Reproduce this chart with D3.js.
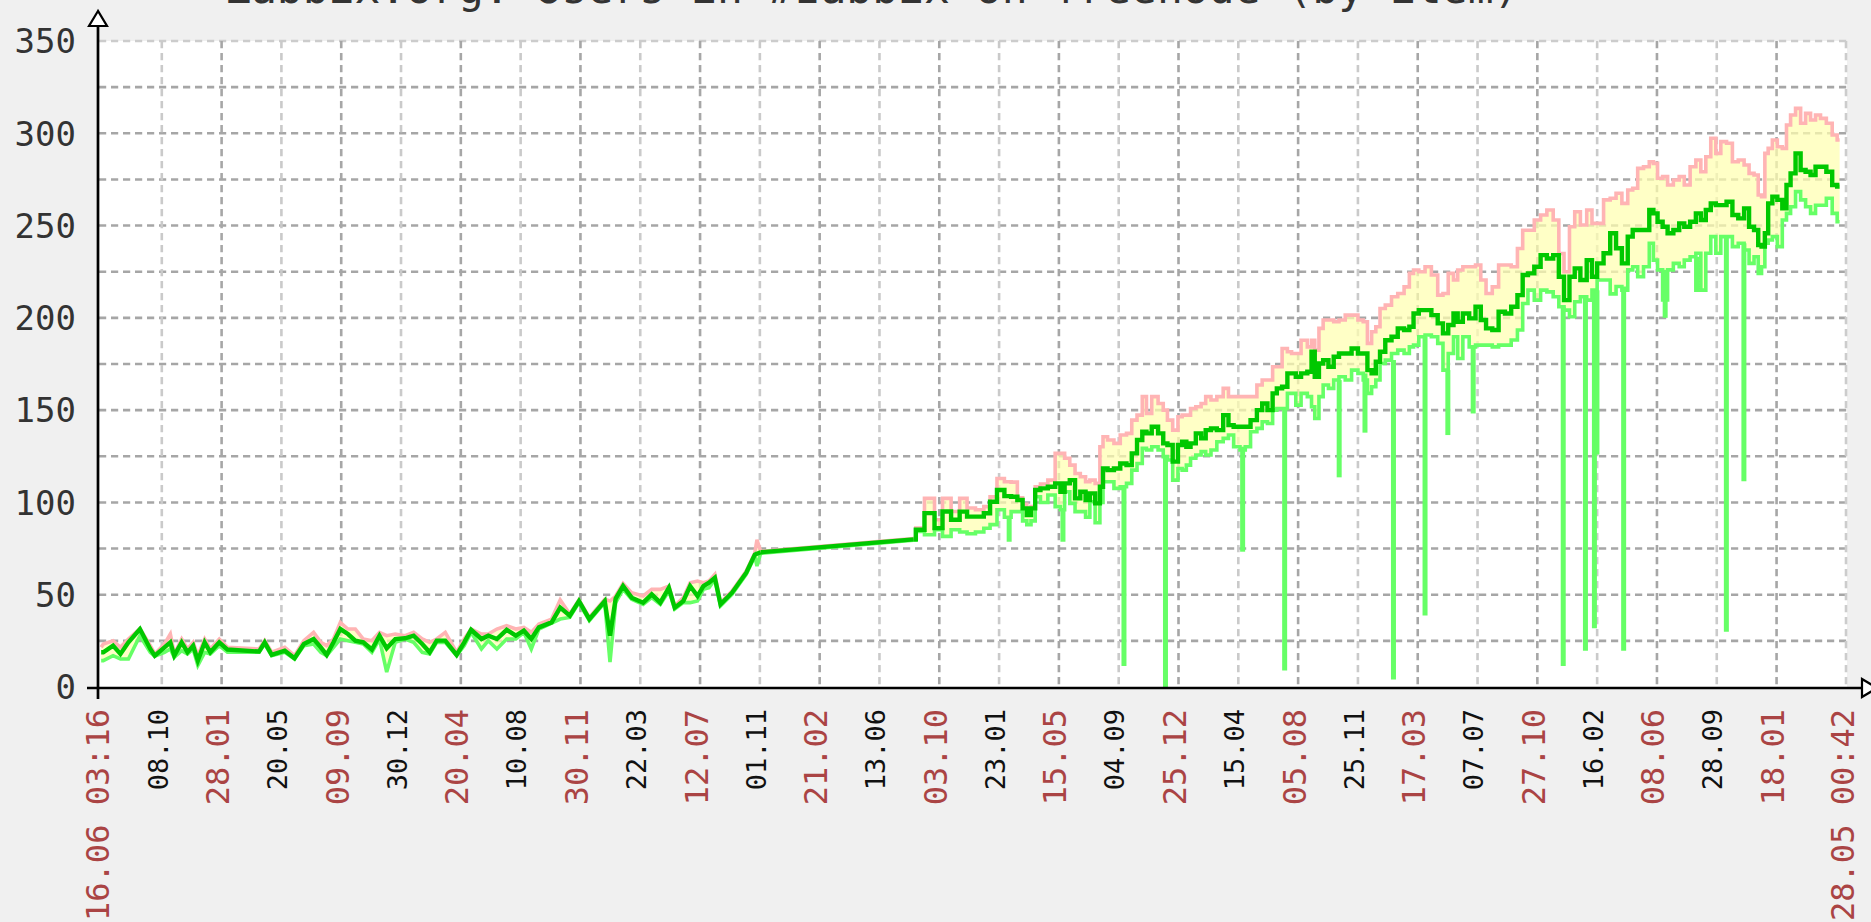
<!DOCTYPE html>
<html>
<head>
<meta charset="utf-8">
<script src="https://cdn.jsdelivr.net/npm/d3@7"></script>
<style>
  html, body { margin: 0; padding: 0; background: #f0f0f0; overflow: hidden; }
  svg { display: block; }
</style>
</head>
<body>
<script>
// ---- data (time as decimal year) ----
const title = 'Zabbix.org: Users in #zabbix on freenode (by item)';
const startTime = '2010-06-16T03:16:00Z';
const endTime = '2019-05-28T00:42:00Z';
const startLabel = '16.06 03:16';
const endLabel = '28.05 00:42';

const yLabels = [0, 50, 100, 150, 200, 250, 300, 350];
const yGrid = [25, 50, 75, 100, 125, 150, 175, 200, 225, 250, 275, 300, 325];

const tickDates = ['2010-10-08', '2011-01-28', '2011-05-20', '2011-09-09', '2011-12-30', '2012-04-20',
  '2012-08-10', '2012-11-30', '2013-03-22', '2013-07-12', '2013-11-01', '2014-02-21', '2014-06-13',
  '2014-10-03', '2015-01-23', '2015-05-15', '2015-09-04', '2015-12-25', '2016-04-15', '2016-08-05',
  '2016-11-25', '2017-03-17', '2017-07-07', '2017-10-27', '2018-02-16', '2018-06-08', '2018-09-28',
  '2019-01-18'];
const tickMajor = [0, 1, 0, 1, 0, 1, 0, 1, 0, 1, 0, 1, 0, 1, 0, 1, 0, 1, 0, 1, 0, 1, 0, 1, 0, 1, 0, 1];

const times = [
  2010.456, 2010.467, 2010.517, 2010.555, 2010.596, 2010.655, 2010.708, 2010.731, 2010.781, 2010.811,
  2010.831, 2010.869, 2010.899, 2010.928, 2010.952, 2010.987, 2011.016, 2011.062, 2011.104, 2011.266,
  2011.295, 2011.331, 2011.398, 2011.448, 2011.496, 2011.546, 2011.583, 2011.613, 2011.648, 2011.683,
  2011.722, 2011.760, 2011.801, 2011.845, 2011.884, 2011.921, 2011.965, 2012.015, 2012.059, 2012.103,
  2012.141, 2012.177, 2012.221, 2012.279, 2012.318, 2012.353, 2012.406, 2012.441, 2012.485, 2012.535,
  2012.582, 2012.623, 2012.661, 2012.700, 2012.765, 2012.809, 2012.858, 2012.905, 2012.958, 2013.037,
  2013.064, 2013.093, 2013.131, 2013.175, 2013.234, 2013.278, 2013.322, 2013.366, 2013.396, 2013.440,
  2013.475, 2013.513, 2013.543, 2013.572, 2013.602, 2013.631, 2013.690, 2013.763, 2013.807, 2013.818,
  2013.837, 2014.621, 2014.645, 2014.710, 2014.748, 2014.792, 2014.836,
  2014.880, 2014.912, 2014.966, 2014.998, 2015.030, 2015.069, 2015.106, 2015.138, 2015.170, 2015.192,
  2015.213, 2015.235, 2015.256, 2015.289, 2015.332, 2015.364, 2015.386, 2015.407, 2015.439, 2015.461,
  2015.493, 2015.515, 2015.537, 2015.569, 2015.586, 2015.601, 2015.633, 2015.666, 2015.698, 2015.730,
  2015.752, 2015.784, 2015.806, 2015.827, 2015.860, 2015.892, 2015.913, 2015.935, 2015.967, 2015.989,
  2016.010, 2016.032, 2016.053, 2016.086, 2016.107, 2016.133, 2016.161, 2016.193, 2016.226, 2016.247,
  2016.279, 2016.312, 2016.333, 2016.366, 2016.398, 2016.420, 2016.452, 2016.473, 2016.495, 2016.527,
  2016.549, 2016.570, 2016.592, 2016.624, 2016.656, 2016.667, 2016.689, 2016.710, 2016.732, 2016.764,
  2016.786, 2016.818, 2016.850, 2016.883, 2016.915, 2016.937, 2016.958, 2016.980, 2017.001, 2017.023,
  2017.055, 2017.087, 2017.119, 2017.152, 2017.173, 2017.195, 2017.227, 2017.259, 2017.292, 2017.324,
  2017.346, 2017.378, 2017.400, 2017.421, 2017.453, 2017.486, 2017.518, 2017.540, 2017.572, 2017.604,
  2017.637, 2017.669, 2017.701, 2017.733, 2017.755, 2017.787, 2017.820, 2017.852, 2017.884, 2017.917,
  2017.942, 2017.970, 2017.998, 2018.024, 2018.056, 2018.089, 2018.110, 2018.142,
  2018.176, 2018.210, 2018.236, 2018.270, 2018.296, 2018.321, 2018.347, 2018.381, 2018.406, 2018.423,
  2018.449, 2018.475, 2018.500, 2018.534, 2018.560, 2018.586, 2018.620, 2018.645, 2018.671, 2018.696,
  2018.722, 2018.748, 2018.773, 2018.807, 2018.833, 2018.867, 2018.893, 2018.918, 2018.944, 2018.961,
  2018.978, 2018.995, 2019.012, 2019.038, 2019.063, 2019.089, 2019.106, 2019.131, 2019.157, 2019.183,
  2019.208, 2019.234, 2019.259, 2019.285, 2019.319, 2019.345, 2019.370
];

const avgValues = [
  18.8, 18.8, 22.4, 17.9, 24.2, 31.4, 20.6, 17.0, 21.5, 24.2,
  17.0, 24.2, 18.8, 22.4, 14.3, 24.2, 18.8, 24.2, 20.3, 19.2,
  24.2, 17.4, 19.7, 15.6, 23.3, 26.0, 21.5, 17.4, 24.2, 31.4,
  28.7, 25.1, 24.2, 20.3, 27.8, 21.0, 26.0, 26.4, 27.8, 23.3,
  18.8, 25.1, 25.1, 17.4, 24.2, 31.0, 26.0, 27.8, 26.0, 31.0,
  27.8, 30.5, 26.0, 32.3, 35.0, 43.0, 38.6, 46.6, 36.8, 46.6,
  27.8, 47.9, 54.7, 48.4, 45.7, 50.2, 45.7, 53.8, 43.0, 46.6,
  54.7, 49.3, 54.7, 56.5, 59.2, 44.8, 51.1, 61.9, 71.7, 72.2,
  73.0, 80.0, 85.2, 94.2, 86.1, 95.1, 90.6,
  95.0, 92.3, 92.3, 94.1, 100.4, 106.7, 103.4, 103.1, 101.3, 96.8,
  93.2, 96.8, 106.7, 107.6, 108.5, 110.3, 105.8, 110.3, 112.1, 102.2,
  105.8, 101.3, 104.9, 99.5, 108.5, 118.4, 117.5, 118.4, 121.1, 120.2,
  126.6, 133.8, 138.3, 137.4, 141.0, 137.4, 132.0, 131.1, 122.1, 131.1,
  132.9, 130.2, 132.0, 137.4, 134.7, 139.2, 140.1, 139.2, 147.3, 141.9,
  141.0, 141.0, 141.0, 144.6, 150.0, 153.6, 150.0, 159.1, 161.8, 162.7,
  169.9, 169.9, 168.1, 169.9, 170.8, 181.6, 168.1, 175.3, 177.1, 173.5,
  178.9, 180.7, 180.7, 183.4, 180.7, 180.7, 171.7, 169.9, 176.2, 181.6,
  187.9, 189.8, 194.3, 193.4, 195.2, 202.4, 204.2, 204.2, 201.5, 197.0,
  191.6, 196.1, 202.4, 197.9, 202.4, 199.7, 206.0, 198.8, 194.3, 193.4,
  203.3, 202.4, 206.0, 212.3, 223.2, 224.1, 227.7, 234.0, 232.2, 234.0,
  222.3, 209.6, 222.3, 226.8, 220.5, 231.3, 222.3, 229.5,
  235.0, 245.8, 237.7, 229.5, 244.0, 247.6, 247.6, 247.6, 258.4, 256.6,
  252.1, 249.4, 245.8, 247.6, 251.2, 249.4, 252.1, 256.6, 253.0, 258.4,
  262.0, 261.1, 261.1, 262.9, 255.7, 253.9, 259.3, 249.4, 247.6, 239.5,
  238.6, 245.8, 262.0, 265.7, 263.9, 259.3, 272.0, 278.3, 289.1, 280.1,
  279.2, 277.4, 281.9, 281.9, 279.2, 272.0, 271.1
];

const minValues = [
  14.3, 14.3, 17.0, 15.2, 15.2, 27.8, 18.8, 16.7, 18.8, 20.6,
  16.1, 19.7, 17.9, 20.6, 11.7, 18.8, 17.9, 22.4, 18.8, 18.8,
  23.3, 17.0, 18.8, 15.2, 22.4, 23.3, 18.8, 17.0, 21.5, 26.0,
  25.1, 24.2, 23.3, 18.8, 26.0, 8.1, 24.2, 26.0, 24.2, 18.8,
  17.9, 24.2, 24.2, 17.0, 22.4, 29.6, 20.6, 25.1, 20.6, 26.0,
  26.0, 29.6, 20.6, 31.4, 34.6, 36.8, 37.7, 45.7, 35.9, 45.7,
  13.5, 45.7, 52.9, 47.5, 44.8, 48.4, 44.8, 52.0, 42.2, 45.7,
  45.7, 46.6, 52.9, 53.8, 58.3, 43.9, 50.2, 61.0, 70.9, 65.5,
  72.5, 79.5, 84.3, 82.5, 85.2, 81.6, 85.2,
  84.0, 83.0, 84.0, 86.0, 88.0, 96.0, 92.0, 95.0, 95.0, 90.0,
  88.0, 90.0, 103.1, 100.0, 104.0, 97.7, 96.0, 105.8, 99.5, 95.0,
  95.0, 92.0, 100.4, 89.0, 100.0, 111.2, 111.2, 107.6, 108.5, 110.3,
  117.5, 121.1, 129.3, 128.4, 130.2, 128.4, 124.8, 123.0, 112.1, 118.4,
  117.5, 120.2, 123.9, 125.7, 127.5, 125.7, 128.4, 132.9, 134.7, 136.5,
  130.2, 128.4, 130.2, 138.3, 140.1, 143.7, 142.8, 150.0, 150.9, 150.9,
  159.1, 159.1, 152.7, 159.1, 157.3, 151.8, 145.5, 157.3, 163.6, 161.8,
  166.3, 168.1, 166.3, 171.7, 169.9, 166.3, 159.1, 162.7, 166.3, 175.3,
  177.1, 180.7, 182.5, 180.7, 184.3, 185.2, 189.8, 190.7, 189.8, 186.2,
  171.7, 180.7, 189.8, 178.0, 189.8, 184.3, 185.2, 185.2, 185.2, 184.3,
  185.2, 185.2, 188.0, 193.4, 207.8, 215.0, 209.6, 215.0, 214.1, 211.4,
  206.0, 204.2, 200.6, 208.7, 211.4, 209.6, 215.0, 220.5,
  220.5, 213.0, 217.0, 215.0, 226.0, 227.7, 222.3, 227.7, 240.4, 231.3,
  226.0, 209.7, 226.0, 229.5, 227.7, 231.3, 233.1, 235.0, 215.0, 235.0,
  244.0, 235.0, 244.0, 244.0, 238.6, 240.4, 236.8, 229.5, 233.1, 224.1,
  227.7, 240.4, 242.2, 244.0, 238.6, 253.0, 256.6, 260.2, 268.4, 263.9,
  260.2, 256.6, 261.0, 261.0, 264.8, 256.6, 252.1
];

const maxValues = [
  21.5, 23.3, 25.1, 21.5, 26.0, 31.7, 22.4, 17.9, 23.3, 28.7,
  17.9, 26.0, 20.6, 24.2, 17.0, 26.0, 20.6, 26.0, 21.5, 20.6,
  25.1, 18.8, 21.5, 17.0, 25.1, 29.6, 24.2, 22.4, 26.0, 35.0,
  31.4, 31.4, 26.0, 25.1, 29.6, 27.8, 28.7, 27.8, 29.6, 26.0,
  24.2, 26.0, 29.6, 18.8, 26.0, 31.4, 28.7, 28.7, 31.4, 33.2,
  31.4, 32.3, 29.6, 34.1, 36.8, 47.2, 39.5, 47.2, 37.7, 47.5,
  46.6, 49.3, 56.1, 51.1, 49.3, 52.9, 52.9, 54.7, 43.9, 48.4,
  56.5, 57.4, 56.5, 57.4, 61.0, 45.7, 52.0, 62.8, 72.6, 79.8,
  73.5, 80.5, 86.1, 102.2, 90.6, 102.2, 95.1,
  102.2, 97.0, 96.0, 97.7, 103.0, 113.0, 111.2, 111.0, 102.5, 99.0,
  96.0, 97.7, 108.5, 110.0, 112.1, 126.6, 126.6, 123.9, 120.2, 115.7,
  113.9, 111.2, 112.1, 110.3, 130.2, 135.6, 133.8, 132.0, 136.5, 137.4,
  144.6, 147.3, 157.3, 148.2, 157.3, 153.6, 150.0, 144.6, 139.2, 146.4,
  147.3, 147.3, 150.9, 151.8, 153.6, 157.3, 155.5, 157.3, 161.8, 157.3,
  157.3, 157.3, 157.3, 157.3, 163.6, 166.3, 166.3, 173.5, 173.5, 183.4,
  181.6, 180.7, 180.7, 187.9, 184.3, 187.9, 182.5, 194.3, 198.8, 198.8,
  197.9, 198.8, 201.5, 201.5, 198.8, 197.9, 186.2, 192.5, 195.2, 205.1,
  206.9, 211.4, 213.2, 216.8, 224.1, 225.9, 225.0, 227.7, 223.2, 212.3,
  213.2, 224.1, 220.5, 225.9, 227.7, 227.7, 228.6, 220.5, 213.2, 216.8,
  228.6, 228.6, 227.7, 237.6, 247.5, 247.5, 253.0, 255.7, 258.4, 253.0,
  234.9, 225.0, 249.4, 257.5, 250.3, 258.4, 251.2, 251.2,
  263.9, 264.8, 267.5, 262.0, 269.3, 270.2, 281.0, 281.9, 284.6, 283.7,
  275.6, 276.5, 272.0, 274.7, 276.5, 272.0, 281.9, 285.5, 279.2, 287.3,
  297.3, 289.1, 295.5, 294.6, 284.6, 285.5, 282.8, 278.3, 277.4, 266.6,
  265.7, 289.1, 291.8, 296.4, 292.7, 291.8, 304.5, 309.9, 313.5, 305.4,
  310.8, 307.2, 309.9, 308.1, 305.4, 299.1, 296.4
];

// single-sample drops of the minimum
const dipTimes = [2015.112, 2015.388, 2015.701, 2015.914, 2016.309, 2016.524, 2016.803, 2016.935,
  2017.081, 2017.243, 2017.360, 2017.490, 2017.952, 2018.066, 2018.112, 2018.125, 2018.262,
  2018.475, 2018.636, 2018.789, 2018.879];
const dipValues = [78.7, 78.7, 11.4, 0, 73.3, 8.9, 113.6, 137.8,
  4.1, 38.8, 136.5, 148.2, 11.4, 19.7, 31.8, 126.0, 19.7,
  200.0, 214.0, 30.0, 111.5];

// ---- drawing ----
const W = 1871, H = 922;
const plotLeft = 98, plotTop = 41, plotBottom = 687, plotRight = 1847;

function yearToDate(t) {
  const yr = Math.floor(t);
  const a = Date.UTC(yr, 0, 1), b = Date.UTC(yr + 1, 0, 1);
  return new Date(a + (t - yr) * (b - a));
}

const x = d3.scaleUtc()
  .domain([new Date(startTime), new Date(endTime)])
  .range([101, 1846]);
const y = d3.scaleLinear().domain([0, 350]).range([plotBottom, plotTop]);

const svg = d3.select('body').append('svg')
  .attr('width', W).attr('height', H);

svg.append('rect').attr('width', W).attr('height', H).attr('fill', '#f0f0f0');

// title sits mostly above the picture, only its lower edge shows
svg.append('text')
  .attr('x', 225).attr('y', 3)
  .attr('font-family', 'DejaVu Sans Mono')
  .attr('font-size', 43)
  .attr('fill', '#333')
  .text(title);

svg.append('rect')
  .attr('x', plotLeft).attr('y', plotTop)
  .attr('width', plotRight - plotLeft).attr('height', plotBottom - plotTop)
  .attr('fill', '#ffffff');

const grid = svg.append('g').attr('stroke-width', 2.6).attr('stroke-dasharray', '7.2,4.8').attr('fill', 'none');

grid.selectAll('line.h')
  .data(yGrid)
  .enter()
  .append('line')
  .attr('class', 'h')
  .attr('x1', plotLeft + 1).attr('x2', plotRight)
  .attr('y1', d => y(d)).attr('y2', d => y(d))
  .attr('stroke', '#a6a6a6');

grid.append('line')
  .attr('x1', plotLeft + 1).attr('x2', plotRight)
  .attr('y1', y(350)).attr('y2', y(350))
  .attr('stroke', '#cccccc');

const ticks = tickDates.map((d, i) => ({ date: new Date(d + 'T00:00:00Z'), major: tickMajor[i] === 1 }));

grid.selectAll('line.v')
  .data(ticks)
  .enter()
  .append('line')
  .attr('class', 'v')
  .attr('x1', d => x(d.date)).attr('x2', d => x(d.date))
  .attr('y1', plotTop).attr('y2', plotBottom)
  .attr('stroke', d => d.major ? '#a6a6a6' : '#cacaca');

grid.append('line')
  .attr('x1', x(new Date(endTime))).attr('x2', x(new Date(endTime)))
  .attr('y1', plotTop).attr('y2', plotBottom)
  .attr('stroke', '#cccccc');

// series: sparse early part joined straight, dense later part drawn in steps
const rows = times.map((t, i) => ({
  date: yearToDate(t), avg: avgValues[i], min: minValues[i], max: maxValues[i]
}));
const gapAt = times.findIndex((t, i) => i > 0 && t - times[i - 1] > 0.3);
const parts = [
  { rows: rows.slice(0, gapAt), curve: d3.curveLinear },
  { rows: rows.slice(gapAt - 1, gapAt + 1), curve: d3.curveLinear },
  { rows: rows.slice(gapAt), curve: d3.curveStep }
];

function drawSeries(key, color, width) {
  parts.forEach(p => {
    svg.append('path')
      .datum(p.rows)
      .attr('fill', 'none')
      .attr('stroke', color)
      .attr('stroke-width', width)
      .attr('d', d3.line().curve(p.curve).x(d => x(d.date)).y(d => y(d[key])));
  });
}

parts.forEach(p => {
  svg.append('path')
    .datum(p.rows)
    .attr('fill', '#ffffb0')
    .attr('fill-opacity', 0.72)
    .attr('d', d3.area().curve(p.curve).x(d => x(d.date)).y0(d => y(d.min)).y1(d => y(d.max)));
});

drawSeries('max', '#ffb4b4', 3.6);
drawSeries('min', '#66ff66', 3.6);

// drops drawn from the min line down
const bis = d3.bisector(d => d.date).left;
function minAt(date) {
  const i = bis(rows, date);
  if (i <= 0) return rows[0].min;
  if (i >= rows.length) return rows[rows.length - 1].min;
  return rows[i - 1].min;
}
const dips = dipTimes.map((t, i) => ({ date: yearToDate(t), v: dipValues[i] }));
svg.selectAll('line.dip')
  .data(dips)
  .enter()
  .append('line')
  .attr('class', 'dip')
  .attr('x1', d => x(d.date)).attr('x2', d => x(d.date))
  .attr('y1', d => y(minAt(d.date))).attr('y2', d => y(d.v))
  .attr('stroke', '#66ff66')
  .attr('stroke-width', 5);

drawSeries('avg', '#00c800', 4.4);

// axes
const axes = svg.append('g').attr('stroke', '#000').attr('stroke-width', 2.7);
axes.append('line').attr('x1', plotLeft).attr('x2', plotLeft).attr('y1', 26).attr('y2', 699);
axes.append('line').attr('x1', 87).attr('x2', 1862).attr('y1', 688).attr('y2', 688);
axes.append('path').attr('d', 'M98,11 L89,26 L107,26 Z').attr('fill', '#fff').attr('stroke-width', 2.2);
axes.append('path').attr('d', 'M1862,679 L1862,697 L1877,688 Z').attr('fill', '#fff').attr('stroke-width', 2.2);

// y labels
svg.selectAll('text.ylab')
  .data(yLabels)
  .enter()
  .append('text')
  .attr('class', 'ylab')
  .attr('x', 76)
  .attr('y', d => y(d))
  .attr('dy', '0.36em')
  .attr('text-anchor', 'end')
  .attr('font-family', 'DejaVu Sans Mono')
  .attr('font-size', 34)
  .attr('fill', '#333')
  .text(d => d);

// x labels, rotated
const fmt = d3.utcFormat('%d.%m');
const xLabels = [{ date: new Date(startTime), text: startLabel, major: true }]
  .concat(ticks.map(d => ({ date: d.date, text: fmt(d.date), major: d.major })))
  .concat([{ date: new Date(endTime), text: endLabel, major: true }]);

svg.selectAll('text.xlab')
  .data(xLabels)
  .enter()
  .append('text')
  .attr('class', 'xlab')
  .attr('transform', d => 'translate(' + (x(d.date) - 4) + ',709) rotate(-90)')
  .attr('dy', '0.36em')
  .attr('text-anchor', 'end')
  .attr('font-family', 'DejaVu Sans Mono')
  .attr('font-size', d => d.major ? 32 : 27)
  .attr('fill', d => d.major ? '#aa4444' : '#111')
  .style('white-space', 'pre')
  .text(d => d.text);
</script>
</body>
</html>
